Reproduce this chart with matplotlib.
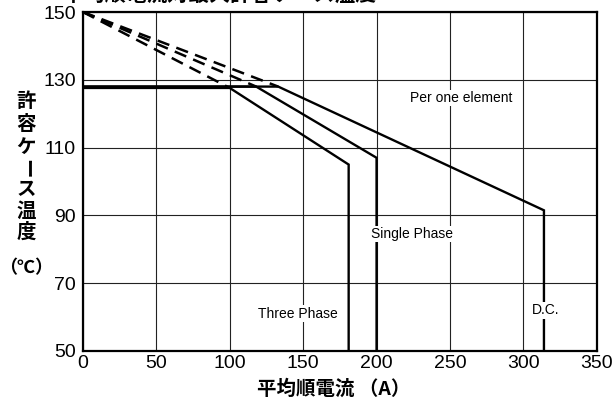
import matplotlib
matplotlib.use("Agg")
import matplotlib.pyplot as plt

# Curve data (average forward current [A] vs. max allowable case temperature [degC])
three_x = [0, 100, 181, 181]
three_y = [127.6, 127.6, 105, 50]
single_x = [0, 118, 200, 200]
single_y = [128, 128, 107, 50]
dc_x = [0, 133, 314, 314]
dc_y = [128, 128, 91.5, 50]

# Dashed extensions from the 150 degC origin to each break point
dash_start = (0, 150)
dash_ends = [(100, 127.6), (118, 128), (133, 128)]

x_ticks = [0, 50, 100, 150, 200, 250, 300, 350]
y_ticks = [50, 70, 90, 110, 130, 150]

labels = [("Per one element", 223, 124.6), ("Single Phase", 196, 84.5),
          ("Three Phase", 119, 61), ("D.C.", 306, 62)]

title = "平均順電流対最大許容ケース温度"
ylabel_chars = ["許", "容", "ケ", "ー", "ス", "温", "度"]
ylabel_unit = "（℃）"
xlabel = "平均順電流 （A）"

jp_font = ["Noto Sans CJK JP", "DejaVu Sans"]
num_font = ["Liberation Sans", "DejaVu Sans"]

fig = plt.figure(figsize=(6.14, 4.07), dpi=100)
ax = fig.add_axes([0.135, 0.1376, 0.837, 0.8329])

ax.set_xlim(0, 350)
ax.set_ylim(50, 150)
ax.set_xticks(x_ticks)
ax.set_yticks(y_ticks)
ax.grid(True, color="#222222", linewidth=0.8)
ax.set_axisbelow(True)
ax.tick_params(length=0, labelsize=14, pad=3)
ax.tick_params(axis="y", pad=5)
for lab in ax.get_xticklabels() + ax.get_yticklabels():
    lab.set_family(num_font)
for sp in ax.spines.values():
    sp.set_linewidth(1.6)

for xs, ys in [(three_x, three_y), (single_x, single_y), (dc_x, dc_y)]:
    ax.plot(xs, ys, color="black", linewidth=1.7, solid_joinstyle="miter")
for ex, ey in dash_ends:
    ax.plot([dash_start[0], ex], [dash_start[1], ey], color="black",
            linewidth=1.8, dashes=(5, 3))

for text, tx, ty in labels:
    ax.text(tx, ty, text, fontsize=10, family=num_font, va="center", ha="left",
            bbox=dict(facecolor="white", edgecolor="none", pad=1))

# Title (cut off at the top edge, as in the source image)
fig.text(220 / 614, 1 - 6 / 407, title, family=jp_font, fontsize=15,
         fontweight="bold", ha="center", va="bottom")

# Vertical y-axis label, one character per line
char_y = [101.7, 125, 147, 169, 190, 211, 232]
for ch, py in zip(ylabel_chars, char_y):
    rot = -90 if ch == "ー" else 0
    fig.text(26 / 614, 1 - py / 407, ch, family=jp_font, fontsize=14,
             fontweight="bold", ha="center", va="center", rotation=rot)
fig.text(26 / 614, 1 - 268 / 407, ylabel_unit, family=jp_font, fontsize=13,
         fontweight="bold", ha="center", va="center")

fig.text(334 / 614, 1 - 389 / 407, xlabel, family=jp_font, fontsize=14,
         fontweight="bold", ha="center", va="center")

fig.savefig("out.png", dpi=100)
